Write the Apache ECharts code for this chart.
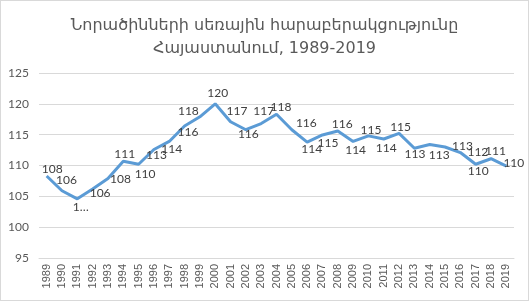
<!DOCTYPE html>
<html><head><meta charset="utf-8">
<script src="https://cdn.jsdelivr.net/npm/echarts@6/dist/echarts.min.js"></script>
<style>
html,body{margin:0;padding:0;background:#fff;}
#c{width:527px;height:299px;border:1px solid #d9d9d9;}
</style></head>
<body><div id="c"></div>
<script>
const titleLines = ['Նորածինների սեռային հարաբերակցությունը', 'Հայաստանում, 1989-2019'];
const years = ['1989','1990','1991','1992','1993','1994','1995','1996','1997','1998','1999','2000','2001','2002','2003','2004','2005','2006','2007','2008','2009','2010','2011','2012','2013','2014','2015','2016','2017','2018','2019'];
const ratio = [108.3,105.9,104.6,106.2,107.9,110.7,110.2,112.6,113.9,116.4,117.9,120.0,117.1,115.8,116.8,118.3,115.8,113.8,114.95,115.6,113.9,114.8,114.3,115.2,112.8,113.4,113.0,112.1,110.2,111.1,109.9];
const labelTexts = ['108','106','1…','106','108','111','110','113','114','116','118','120','117','116','117','118','116','114','115','116','114','115','114','115','113','113','113','112','110','111','110'];
const yTicks = {min:95, max:125, step:5};

// label offsets from the point, in pixels (styling only)
const labelOffsets = [[6,-6],[5,-10],[4,9],[8,5],[13,1],[2,-7],[7,10],[3,6],[3,8],[4,7],[-11,-5],[3,-10],[7,-10],[3,5],[3,-12],[5,-7],[15,-6],[5,8],[6,9],[5,-6],[3,9],[3,-5],[3,10],[2,-6],[1,6],[10,11],[18,0],[18,0],[3,7],[5,-7],[8,-2]];

const chart = echarts.init(document.getElementById('c'));
const data = ratio.map((v,i)=>({
  value:v,
  label:{show:true, position:[labelOffsets[i][0], labelOffsets[i][1]], align:'center', verticalAlign:'middle', formatter: labelTexts[i]}
}));
chart.setOption({
  animation:false,
  title:{
    text: titleLines.join('\n'),
    left:'center', top:8,
    textStyle:{fontFamily:'DejaVu Sans', fontSize:16, fontWeight:'normal', color:'#595959', lineHeight:23}
  },
  grid:{left:38, right:14, top:72, bottom:42, containLabel:false},
  xAxis:{
    type:'category', data:years, boundaryGap:true,
    axisLine:{show:true, lineStyle:{color:'#d9d9d9'}},
    axisTick:{show:false},
    axisLabel:{rotate:90, interval:0, color:'#595959', fontSize:11, fontFamily:'Liberation Sans', margin:6}
  },
  yAxis:{
    type:'value', min:yTicks.min, max:yTicks.max, interval:yTicks.step,
    axisLine:{show:false}, axisTick:{show:false},
    splitLine:{lineStyle:{color:'#d9d9d9'}},
    axisLabel:{color:'#595959', fontSize:12, fontFamily:'"Liberation Sans Narrow", Lato', margin:10}
  },
  series:[{
    type:'line', data:data, symbol:'circle', symbolSize:1, showSymbol:true,
    itemStyle:{color:'rgba(0,0,0,0)'},
    lineStyle:{color:'#5B9BD5', width:3},
    label:{show:true, color:'#404040', fontSize:12, fontFamily:'"Liberation Sans Narrow", Lato'},
    labelLayout:{hideOverlap:false}
  }]
});
</script></body></html>
